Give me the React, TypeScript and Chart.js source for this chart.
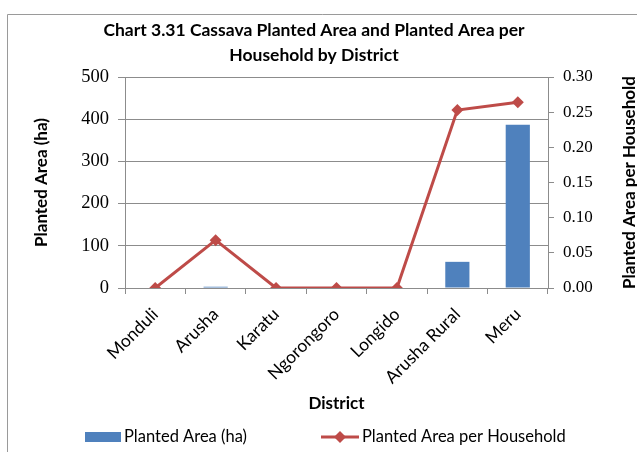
import React, { useEffect, useRef } from "react";
import { Chart, registerables } from "chart.js";

Chart.register(...registerables);

const categories = ["Monduli", "Arusha", "Karatu", "Ngorongoro", "Longido", "Arusha Rural", "Meru"];
const plantedArea = [0, 3, 0, 0, 0, 62, 387];
const areaPerHousehold = [0, 0.068, 0, 0, 0, 0.253, 0.264];
const titleLines = ["Chart 3.31 Cassava Planted Area and Planted Area per", "Household by District"];
const leftTitle = "Planted Area (ha)";
const rightTitle = "Planted Area per Household";
const xTitle = "District";
const barLabel = "Planted Area (ha)";
const lineLabel = "Planted Area per Household";

const BAR = "#4F81BD";
const RED = "#BE4B48";
const GRID = "#8c8c8c";
const SANS = "Lato, 'Open Sans', sans-serif";
const SERIF = "'Liberation Serif', 'DejaVu Serif', serif";

const decor = {
  id: "decor",
  beforeDraw(chart: any) {
    const ctx = chart.ctx;
    ctx.save();
    ctx.fillStyle = "#fff";
    ctx.fillRect(0, 0, chart.width, chart.height);
    ctx.restore();
  },
  afterDraw(chart: any) {
    const ctx = chart.ctx;
    const area = chart.chartArea;
    ctx.save();
    // frame
    ctx.strokeStyle = "#9a9a9a";
    ctx.lineWidth = 1;
    ctx.beginPath();
    ctx.moveTo(7.5, chart.height);
    ctx.lineTo(7.5, 14.5);
    ctx.lineTo(chart.width, 14.5);
    ctx.stroke();

    ctx.fillStyle = "#000";
    ctx.textAlign = "center";
    ctx.textBaseline = "middle";
    ctx.font = `bold 17.5px ${SANS}`;
    ctx.fillText(titleLines[0], 314, 30);
    ctx.fillText(titleLines[1], 314, 55);

    ctx.font = `bold 17px ${SANS}`;
    // x title
    ctx.fillText(xTitle, (area.left + area.right) / 2, 404);

    // left title
    ctx.save();
    ctx.translate(42, (area.top + area.bottom) / 2);
    ctx.rotate(-Math.PI / 2);
    ctx.fillText(leftTitle, 0, 0);
    ctx.restore();

    // right title
    ctx.save();
    ctx.translate(630, (area.top + area.bottom) / 2);
    ctx.rotate(-Math.PI / 2);
    ctx.fillText(rightTitle, 0, 0);
    ctx.restore();

    // legend
    const ly = 437;
    ctx.fillStyle = BAR;
    ctx.fillRect(85, ly - 5, 36, 10);
    ctx.fillStyle = "#000";
    ctx.textAlign = "left";
    ctx.font = `16.5px ${SANS}`;
    ctx.fillText(barLabel, 124, ly);

    ctx.strokeStyle = RED;
    ctx.lineWidth = 3;
    ctx.beginPath();
    ctx.moveTo(321, ly);
    ctx.lineTo(359, ly);
    ctx.stroke();
    ctx.fillStyle = RED;
    ctx.beginPath();
    ctx.moveTo(340, ly - 6);
    ctx.lineTo(346, ly);
    ctx.lineTo(340, ly + 6);
    ctx.lineTo(334, ly);
    ctx.closePath();
    ctx.fill();
    ctx.fillStyle = "#000";
    ctx.fillText(lineLabel, 362, ly);
    ctx.restore();
  },
};

export default function App() {
  const ref = useRef<HTMLCanvasElement>(null);
  useEffect(() => {
    const chart = new Chart(ref.current as HTMLCanvasElement, {
      type: "bar",
      data: {
        labels: categories,
        datasets: [
          {
            type: "line",
            label: lineLabel,
            data: areaPerHousehold,
            yAxisID: "y1",
            borderColor: RED,
            backgroundColor: RED,
            borderWidth: 3,
            pointStyle: "rectRot",
            pointRadius: 6,
            pointBorderWidth: 0,
            tension: 0,
            order: 0,
          } as any,
          {
            type: "bar",
            label: barLabel,
            data: plantedArea,
            yAxisID: "y",
            backgroundColor: BAR,
            barPercentage: 0.4,
            categoryPercentage: 1,
            order: 1,
          },
        ],
      },
      options: {
        responsive: false,
        animation: false,
        devicePixelRatio: 1,
        layout: { padding: { top: 77, left: 0, right: 0, bottom: 0 } },
        plugins: { legend: { display: false }, title: { display: false }, tooltip: { enabled: false } },
        scales: {
          x: {
            offset: true,
            grid: { offset: true, drawOnChartArea: false, color: GRID, tickLength: 6 },
            border: { color: GRID },
            ticks: {
              color: "#000",
              font: { family: SANS, size: 17.5 },
              maxRotation: 45,
              minRotation: 45,
              autoSkip: false,
              padding: 10,
            },
            afterFit(scale: any) {
              scale.height = 164;
            },
          },
          y: {
            position: "left",
            min: 0,
            max: 500,
            ticks: { stepSize: 100, color: "#000", font: { family: SERIF, size: 18.5 }, padding: 9 },
            grid: { color: GRID, tickLength: 7 },
            border: { color: GRID },
            afterFit(scale: any) {
              scale.width = 125;
            },
          },
          y1: {
            position: "right",
            min: 0,
            max: 0.3,
            ticks: {
              stepSize: 0.05,
              color: "#000",
              font: { family: SERIF, size: 17 },
              padding: 9,
              callback: (v: any) => Number(v).toFixed(2),
            },
            grid: { drawOnChartArea: false, color: GRID, tickLength: 6 },
            border: { color: GRID },
            afterFit(scale: any) {
              scale.width = 89;
            },
          },
        },
      },
      plugins: [decor],
    });
    return () => chart.destroy();
  }, []);
  return (
    <div style={{ position: "absolute", left: 0, top: 0, width: 637, height: 452 }}>
      <canvas ref={ref} width={637} height={452} />
    </div>
  );
}
